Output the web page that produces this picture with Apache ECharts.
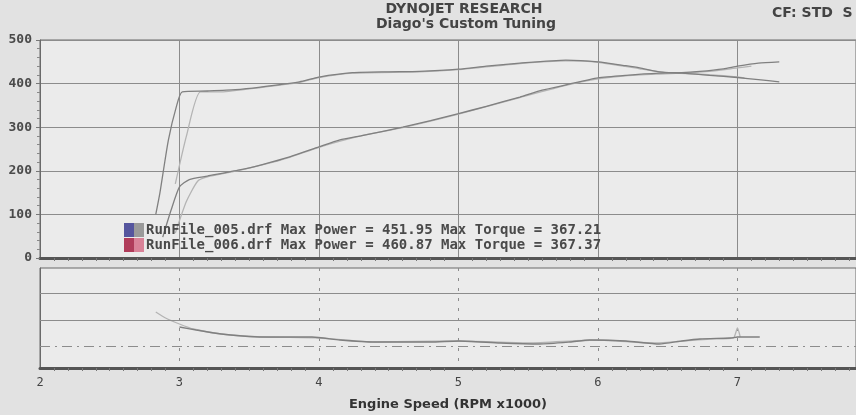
<!DOCTYPE html>
<html>
<head>
<meta charset="utf-8">
<title>Dynojet</title>
<script src="https://cdn.jsdelivr.net/npm/echarts@6/dist/echarts.min.js"></script>
<style>
html, body { margin: 0; padding: 0; background: #e2e2e2; }
#dyno { width: 856px; height: 415px; }
</style>
</head>
<body>
<div id="dyno"></div>
<script>
// run info shown in the legend
const runNames = ['RunFile_005.drf', 'RunFile_006.drf']
const maxPower = ['451.95', '460.87']
const maxTorque = ['367.21', '367.37']

// lower (rising) curve
const rpmPower005 = [2.88, 2.94, 3.0, 3.07, 3.2, 3.43, 3.6, 3.79, 4.0, 4.15, 4.3, 4.6, 4.8, 5.0, 5.2, 5.44, 5.6, 5.77, 6.0, 6.2, 6.44, 6.6, 6.73, 6.9, 7.0, 7.15, 7.3]
const power005 = [48, 110, 163, 180, 188, 202, 215, 232, 255, 271, 280, 300, 315, 331, 348, 369, 385, 397, 413, 419, 424, 425, 428, 434, 440, 447, 450]
const rpmPower006 = [2.97, 3.05, 3.13, 3.2, 3.43, 3.6, 3.79, 4.0, 4.3, 4.6, 5.0, 5.44, 5.77, 6.0, 6.2, 6.44, 6.6, 6.8, 7.0, 7.1]
const power006 = [57, 130, 176, 186, 201, 214, 231, 254, 280, 299, 330, 368, 396, 411, 418, 422, 424, 428, 436, 440]

// upper (flat) curve
const rpmTorque005 = [2.83, 2.86, 2.92, 2.98, 3.02, 3.2, 3.4, 3.58, 3.86, 4.0, 4.24, 4.5, 4.72, 5.0, 5.2, 5.44, 5.77, 6.0, 6.2, 6.3, 6.44, 6.6, 6.8, 7.0, 7.15, 7.3]
const torque005 = [100, 150, 270, 350, 381, 383, 386, 392, 404, 415, 425, 427, 428, 433, 440, 447, 454, 450, 441, 436, 427, 424, 419, 414, 409, 404]
const rpmTorque006 = [2.97, 3.05, 3.15, 3.3, 3.58, 3.86, 4.0, 4.24, 4.72, 5.0, 5.44, 5.77, 6.0, 6.3, 6.5, 6.7, 6.9, 7.05]
const torque006 = [170, 280, 381, 381, 391, 403, 414, 424, 427, 432, 446, 452, 449, 434, 425, 422, 418, 413]

// lower panel trace
const rpmAfr005 = [3.0, 3.12, 3.3, 3.45, 3.6, 3.8, 3.95, 4.15, 4.4, 4.6, 4.8, 5.0, 5.3, 5.58, 5.8, 5.94, 6.2, 6.44, 6.6, 6.73, 6.95, 7.0, 7.16]
const afr005 = [41, 38, 34, 32, 31, 31, 31, 28, 26, 26, 26, 27, 25, 24, 26, 28, 27, 24, 27, 29, 30, 31, 31]
const rpmAfr006 = [2.83, 2.9, 3.0, 3.1, 3.3, 3.6, 4.0, 4.4, 5.0, 5.5, 6.0, 6.4, 6.8, 6.97, 7.0, 7.02]
const afr006 = [56, 50, 44, 39, 34, 31, 30, 26, 27, 25, 28, 25, 29, 30, 40, 31]
const afrRefLines = [75, 48, 22]

// visible part of the rpm axis (the photo cuts it off before 8)
const rpmMin = 2
const rpmMax = 7.85

const pairs = (xs, ys) => xs.map((x, i) => [x, ys[i]])

const chart = echarts.init(document.getElementById('dyno'))
const monoFont = 'DejaVu Sans Mono'
const darkRun = '#808080'
const lightRun = '#b4b4b4'

const lineSeries = (name, data, color, idx) => ({
  name: name,
  type: 'line',
  xAxisIndex: idx,
  yAxisIndex: idx,
  data: data,
  showSymbol: false,
  smooth: 0.2,
  lineStyle: { color: color, width: 1.3 },
  silent: true
})

const legendRows = runNames.map((n, i) =>
  n + ' Max Power = ' + maxPower[i] + ' Max Torque = ' + maxTorque[i])
const swatchColors = [['#55559e', '#9a9a9a'], ['#b03c5a', '#d98298']]

const graphics = [
  { type: 'text', x: 464, y: 9, style: { text: 'DYNOJET RESEARCH', align: 'center', verticalAlign: 'middle', font: 'bold 14px "DejaVu Sans"', fill: '#444' } },
  { type: 'text', x: 466, y: 24, style: { text: "Diago's Custom Tuning", align: 'center', verticalAlign: 'middle', font: 'bold 14px "DejaVu Sans"', fill: '#444' } },
  { type: 'text', x: 772, y: 13, style: { text: 'CF: STD  S', align: 'left', verticalAlign: 'middle', font: 'bold 14px "DejaVu Sans"', fill: '#444' } }
]
legendRows.forEach((t, i) => {
  const y = 223 + i * 15
  graphics.push({ type: 'rect', shape: { x: 124, y: y, width: 10, height: 14 }, style: { fill: swatchColors[i][0] }, z: 10 })
  graphics.push({ type: 'rect', shape: { x: 134, y: y, width: 10, height: 14 }, style: { fill: swatchColors[i][1] }, z: 10 })
  graphics.push({ type: 'text', x: 146, y: y + 7, style: { text: t, verticalAlign: 'middle', font: 'bold 14px "DejaVu Sans Mono"', fill: '#4a4a4a' }, z: 10 })
})

const intLabel = v => (Math.abs(v - Math.round(v)) < 1e-6 ? String(Math.round(v)) : '')

const option = {
  backgroundColor: '#e2e2e2',
  animation: false,
  graphic: graphics,
  grid: [
    { left: 40, right: 0, top: 40, bottom: 157, show: true, backgroundColor: '#ebebeb', borderColor: '#6a6a6a', borderWidth: 1 },
    { left: 40, right: 0, top: 268, bottom: 47, show: true, backgroundColor: '#ebebeb', borderColor: '#6a6a6a', borderWidth: 1 }
  ],
  xAxis: [
    {
      type: 'value', gridIndex: 0, min: rpmMin, max: rpmMax, interval: 1,
      axisLabel: { show: false },
      axisLine: { show: true, lineStyle: { color: '#555', width: 3 } },
      axisTick: { show: false },
      minorTick: { show: true, splitNumber: 10, length: 3, lineStyle: { color: '#777' } },
      splitLine: { show: true, lineStyle: { color: '#8c8c8c', width: 1 } }
    },
    {
      type: 'value', gridIndex: 1, min: rpmMin, max: rpmMax, interval: 1,
      axisLabel: { color: '#444', fontSize: 12, fontFamily: monoFont, margin: 9, formatter: intLabel, showMaxLabel: false },
      axisLine: { show: true, lineStyle: { color: '#555', width: 3 } },
      axisTick: { show: false },
      minorTick: { show: true, splitNumber: 10, length: 3, lineStyle: { color: '#777' } },
      splitLine: { show: true, lineStyle: { color: '#8c8c8c', width: 1, type: [3, 7] } },
      name: 'Engine Speed (RPM x1000)',
      nameLocation: 'middle',
      nameGap: 30,
      nameTextStyle: { color: '#333', fontSize: 13, fontWeight: 'bold', fontFamily: 'DejaVu Sans' }
    }
  ],
  yAxis: [
    {
      type: 'value', gridIndex: 0, min: 0, max: 500, interval: 100,
      axisLabel: { color: '#4a4a4a', fontSize: 13, fontWeight: 'bold', fontFamily: monoFont, margin: 8 },
      axisLine: { show: true, lineStyle: { color: '#6a6a6a' } },
      axisTick: { show: true, length: 4, lineStyle: { color: '#777' } },
      minorTick: { show: true, splitNumber: 5, length: 3, lineStyle: { color: '#888' } },
      splitLine: { show: true, lineStyle: { color: '#8c8c8c', width: 1 } }
    },
    {
      type: 'value', gridIndex: 1, min: 0, max: 100,
      axisLabel: { show: false },
      axisLine: { show: true, lineStyle: { color: '#6a6a6a' } },
      axisTick: { show: false },
      splitLine: { show: false }
    }
  ],
  series: [
    lineSeries('power006', pairs(rpmPower006, power006), lightRun, 0),
    lineSeries('torque006', pairs(rpmTorque006, torque006), lightRun, 0),
    lineSeries('power005', pairs(rpmPower005, power005), darkRun, 0),
    lineSeries('torque005', pairs(rpmTorque005, torque005), darkRun, 0),
    lineSeries('afr006', pairs(rpmAfr006, afr006), lightRun, 1),
    Object.assign(lineSeries('afr005', pairs(rpmAfr005, afr005), darkRun, 1), {
      markLine: {
        silent: true,
        symbol: 'none',
        label: { show: false },
        data: afrRefLines.map((v, i) => ({
          yAxis: v,
          lineStyle: { color: '#8c8c8c', width: 1, type: i === 2 ? [10, 5, 2, 5] : 'solid' }
        }))
      }
    })
  ]
}
chart.setOption(option)
</script>
</body>
</html>
